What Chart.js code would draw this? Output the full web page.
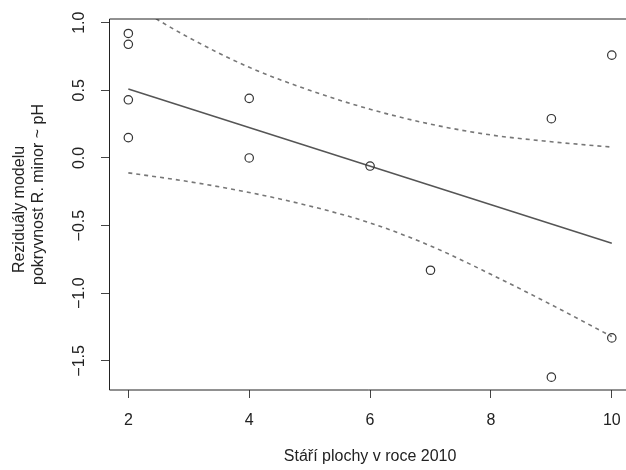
<!DOCTYPE html>
<html>
<head>
<meta charset="utf-8">
<script src="https://cdn.jsdelivr.net/npm/chart.js@4"></script>
<style>
  html, body { margin: 0; padding: 0; overflow: hidden; background: #fff; }
</style>
</head>
<body>
<canvas id="rezidua" width="626" height="470"></canvas>
<script>
// data
const stariX = [2, 2, 2, 2, 4, 4, 6, 7, 9, 9, 10, 10];
const rezidY = [0.92, 0.84, 0.43, 0.15, 0.44, 0.00, -0.06, -0.83, -1.62, 0.29, 0.76, -1.33];

const fitX = [2, 10];
const fitY = [0.51, -0.63];

const pasX = [2, 3, 4, 5, 6, 7, 8, 9, 10];
const horniY = [1.15, 0.89, 0.67, 0.50, 0.36, 0.25, 0.17, 0.12, 0.08];
const dolniY = [-0.11, -0.175, -0.255, -0.355, -0.48, -0.65, -0.86, -1.085, -1.32];

const xTicks = [2, 4, 6, 8, 10];
const yTicks = [-1.5, -1.0, -0.5, 0.0, 0.5, 1.0];

const xNazev = "Stáří plochy v roce 2010";
const yNazev = ["Reziduály modelu", "pokryvnost R. minor ~ pH"];

const FONT = "16px 'Liberation Sans', Arial, sans-serif";

function body(xs, ys) {
  return xs.map((v, i) => ({ x: v, y: ys[i] }));
}

function fmtY(v) {
  const s = Math.abs(v).toFixed(1);
  return v < 0 ? "\u2212" + s : s;
}

// R style box (right side falls outside the picture), tick labels and titles
const rOsy = {
  id: "rOsy",
  afterDraw(chart) {
    const { ctx, chartArea: a, scales } = chart;
    const sx = scales.x, sy = scales.y;
    ctx.save();
    ctx.strokeStyle = "#222";
    ctx.lineWidth = 1;
    ctx.beginPath();
    ctx.moveTo(a.right + 5, a.top);
    ctx.lineTo(a.left + 0.5, a.top);
    ctx.lineTo(a.left + 0.5, a.bottom);
    ctx.lineTo(a.right + 5, a.bottom);
    ctx.stroke();

    ctx.fillStyle = "#222";
    ctx.font = FONT;
    ctx.textAlign = "center";
    ctx.textBaseline = "middle";
    xTicks.forEach((v) => {
      ctx.fillText(String(v), sx.getPixelForValue(v), a.bottom + 31);
    });
    yTicks.forEach((v) => {
      ctx.save();
      ctx.translate(a.left - 29, sy.getPixelForValue(v));
      ctx.rotate(-Math.PI / 2);
      ctx.fillText(fmtY(v), 0, 0);
      ctx.restore();
    });

    // x title is centred on the full (uncropped) plot box
    const plnyPravy = sx.getPixelForValue(10.32);
    ctx.fillText(xNazev, (a.left + plnyPravy) / 2, a.bottom + 67);

    const stred = (a.top + a.bottom) / 2;
    ctx.save();
    ctx.translate(20, stred + 5);
    ctx.rotate(-Math.PI / 2);
    ctx.fillText(yNazev[0], 0, 0);
    ctx.restore();
    ctx.save();
    ctx.translate(39, stred - 10);
    ctx.rotate(-Math.PI / 2);
    ctx.fillText(yNazev[1], 0, 0);
    ctx.restore();
    ctx.restore();
  },
};

const osa = (min, max, ticks) => ({
  type: "linear",
  min: min,
  max: max,
  afterBuildTicks: (ax) => {
    ax.ticks = ticks.map((v) => ({ value: v }));
  },
  ticks: { display: false },
  grid: { drawOnChartArea: false, drawTicks: true, tickLength: 8, color: "#444" },
  border: { display: false },
});

new Chart(document.getElementById("rezidua"), {
  type: "scatter",
  data: {
    datasets: [
      {
        data: body(stariX, rezidY),
        pointStyle: "circle",
        pointRadius: 4.2,
        pointBorderWidth: 1.2,
        pointBorderColor: "#333",
        pointBackgroundColor: "rgba(0,0,0,0)",
      },
      {
        data: body(fitX, fitY),
        showLine: true,
        borderColor: "#555",
        borderWidth: 1.5,
        pointRadius: 0,
      },
      {
        data: body(pasX, horniY),
        showLine: true,
        borderColor: "#777",
        borderWidth: 1.6,
        borderDash: [4, 4],
        cubicInterpolationMode: "monotone",
        pointRadius: 0,
        clip: 0,
      },
      {
        data: body(pasX, dolniY),
        showLine: true,
        borderColor: "#777",
        borderWidth: 1.6,
        borderDash: [4, 4],
        cubicInterpolationMode: "monotone",
        pointRadius: 0,
        clip: 0,
      },
    ],
  },
  options: {
    responsive: false,
    animation: false,
    devicePixelRatio: 1,
    layout: { autoPadding: false, padding: { left: 101, right: 0, top: 19, bottom: 72 } },
    plugins: { legend: { display: false }, tooltip: { enabled: false } },
    scales: {
      x: osa(1.68, 10.235, xTicks),
      y: osa(-1.715, 1.027, yTicks),
    },
  },
  plugins: [rOsy],
});
</script>
</body>
</html>
